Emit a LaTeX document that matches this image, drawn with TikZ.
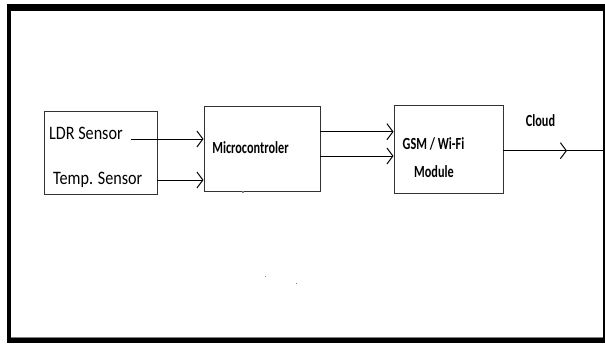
\documentclass[tikz,border=0pt]{standalone}
\usepackage{fontspec}
\setmainfont{Carlito}
\usetikzlibrary{arrows.meta}

\tikzset{
    blk/.style={draw=black!80, line width=0.9pt, inner sep=0pt},
    txtbig/.style={font=\fontsize{19}{21}\selectfont, xscale=0.85, transform shape, inner sep=0pt},
    txtsmall/.style={font=\bfseries\fontsize{17}{19}\selectfont, xscale=0.72, transform shape, inner sep=0pt},
    sig/.style={line width=1pt, -{Straight Barb[length=6pt, width=16pt, line width=1pt]}}
}

\begin{document}
\begin{tikzpicture}[x=1pt, y=-1pt]
    \useasboundingbox (0,0) rectangle (605,343);
    % frame
    \fill[black] (7,4) rectangle (605,343);
    \fill[white] (11,11) rectangle (603,338);
    \draw[gray, line width=0.8pt] (11,337.6) -- (603,337.6);

    % blocks
    \node[blk, minimum width=113pt, minimum height=83pt] (sensors) at (100.5,152.5) {};
    \node[blk, minimum width=116pt, minimum height=85pt] (mcu) at (262,148.5) {};
    \node[blk, minimum width=109pt, minimum height=88pt] (gsm) at (448.5,149) {};

    % texts
    \node[txtbig, anchor=base west] (ldr) at (49,139) {LDR Sensor};
    \node[txtbig, anchor=base west] (temp) at (53,184) {Temp. Sensor};
    \node[txtsmall] (mcutext) at (250.5,147.5) {Microcontroler};
    \node[txtsmall] (gsmtext) at (433.5,144) {GSM / Wi-Fi};
    \node[txtsmall] (modtext) at (434,172) {Module};
    \node[txtsmall] (cloud) at (540.5,121) {Cloud};

    % links
    \coordinate (ldrstart) at (131,139);
    \draw[sig] (ldrstart) -- (mcu.west |- ldrstart);
    \draw[sig] (sensors.east |- 0,180) -- (mcu.west |- 0,180);
    \foreach \yy in {131.7, 156}
        \draw[sig] (mcu.east |- 0,\yy) -- (gsm.west |- 0,\yy);
    \coordinate (cloudtip) at (567,150.7);
    \coordinate (edge) at (603,150.7);
    \draw[sig] (gsm.east |- cloudtip) -- (cloudtip);
    \draw[line width=1pt] (cloudtip) -- (edge);

    % specks
    \fill[gray] (242.2,190.5) rectangle (243.6,193);
    \fill[gray] (264.6,275.6) rectangle (266,277);
    \fill[gray] (295.6,282.6) rectangle (297,284);
\end{tikzpicture}
\end{document}
